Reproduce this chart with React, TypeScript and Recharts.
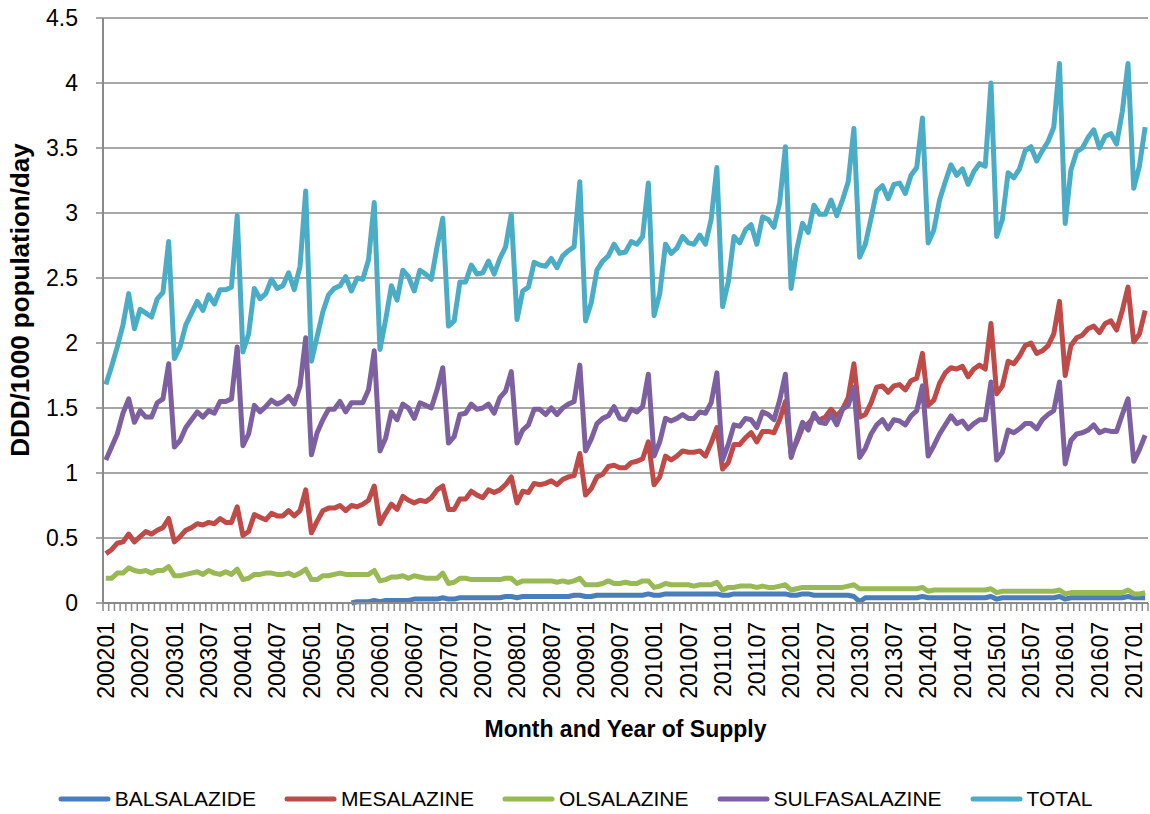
import React from 'react';
import { LineChart, Line, XAxis, YAxis, CartesianGrid, Legend } from 'recharts';

// monthly categories 200201 .. 201703
const START_YEAR = 2002;
const MONTH_COUNT = 183;
const months: string[] = Array.from({ length: MONTH_COUNT }, (_, i) =>
    `${START_YEAR + Math.floor(i / 12)}${String((i % 12) + 1).padStart(2, '0')}`
);

const yTicks = [0, 0.5, 1, 1.5, 2, 2.5, 3, 3.5, 4, 4.5];

// balsalazide only appears from 200508
const balsalazide: (number | null)[] = [
    null, null, null, null, null, null, null, null, null, null, null, null,
    null, null, null, null, null, null, null, null, null, null, null, null,
    null, null, null, null, null, null, null, null, null, null, null, null,
    null, null, null, null, null, null, null, 0.00, 0.01, 0.01, 0.01, 0.02,
    0.01, 0.02, 0.02, 0.02, 0.02, 0.02, 0.03, 0.03, 0.03, 0.03, 0.03, 0.04,
    0.03, 0.03, 0.04, 0.04, 0.04, 0.04, 0.04, 0.04, 0.04, 0.04, 0.05, 0.05,
    0.04, 0.05, 0.05, 0.05, 0.05, 0.05, 0.05, 0.05, 0.05, 0.05, 0.06, 0.06,
    0.05, 0.05, 0.06, 0.06, 0.06, 0.06, 0.06, 0.06, 0.06, 0.06, 0.06, 0.07,
    0.06, 0.06, 0.07, 0.07, 0.07, 0.07, 0.07, 0.07, 0.07, 0.07, 0.07, 0.07,
    0.06, 0.06, 0.07, 0.07, 0.07, 0.07, 0.07, 0.07, 0.07, 0.07, 0.07, 0.07,
    0.06, 0.06, 0.07, 0.07, 0.06, 0.06, 0.06, 0.06, 0.06, 0.06, 0.06, 0.05,
    0.01, 0.04, 0.04, 0.04, 0.04, 0.04, 0.04, 0.04, 0.04, 0.04, 0.04, 0.05,
    0.04, 0.04, 0.04, 0.04, 0.04, 0.04, 0.04, 0.04, 0.04, 0.04, 0.04, 0.05,
    0.03, 0.04, 0.04, 0.04, 0.04, 0.04, 0.04, 0.04, 0.04, 0.04, 0.04, 0.05,
    0.03, 0.04, 0.04, 0.04, 0.04, 0.04, 0.04, 0.04, 0.04, 0.04, 0.04, 0.05,
    0.04, 0.04, 0.04,
];

const mesalazine = [
    0.38, 0.41, 0.46, 0.47, 0.53, 0.47, 0.51, 0.55, 0.53, 0.56, 0.58, 0.65,
    0.47, 0.51, 0.56, 0.58, 0.61, 0.60, 0.62, 0.61, 0.65, 0.62, 0.62, 0.74,
    0.52, 0.55, 0.68, 0.66, 0.64, 0.69, 0.67, 0.67, 0.71, 0.67, 0.71, 0.87,
    0.54, 0.63, 0.71, 0.73, 0.73, 0.75, 0.71, 0.75, 0.74, 0.76, 0.79, 0.90,
    0.61, 0.69, 0.76, 0.72, 0.82, 0.79, 0.77, 0.79, 0.78, 0.81, 0.87, 0.90,
    0.72, 0.72, 0.80, 0.80, 0.86, 0.83, 0.81, 0.87, 0.85, 0.87, 0.91, 0.97,
    0.77, 0.86, 0.85, 0.92, 0.91, 0.92, 0.94, 0.91, 0.95, 0.97, 0.98, 1.15,
    0.83, 0.88, 0.97, 0.99, 1.05, 1.06, 1.04, 1.04, 1.08, 1.09, 1.11, 1.24,
    0.91, 0.97, 1.13, 1.10, 1.13, 1.17, 1.16, 1.16, 1.17, 1.13, 1.23, 1.35,
    1.03, 1.08, 1.22, 1.22, 1.27, 1.31, 1.24, 1.32, 1.32, 1.31, 1.41, 1.55,
    1.15, 1.24, 1.35, 1.38, 1.43, 1.41, 1.43, 1.49, 1.44, 1.49, 1.58, 1.84,
    1.43, 1.45, 1.54, 1.66, 1.67, 1.62, 1.67, 1.68, 1.64, 1.71, 1.73, 1.92,
    1.52, 1.56, 1.69, 1.77, 1.81, 1.80, 1.82, 1.74, 1.80, 1.83, 1.80, 2.15,
    1.61, 1.67, 1.86, 1.84, 1.90, 1.98, 2.00, 1.92, 1.94, 1.98, 2.07, 2.32,
    1.75, 1.98, 2.04, 2.06, 2.11, 2.13, 2.08, 2.15, 2.17, 2.10, 2.25, 2.43,
    2.01, 2.07, 2.25,
];

const olsalazine = [
    0.19, 0.19, 0.23, 0.23, 0.27, 0.25, 0.24, 0.25, 0.23, 0.25, 0.25, 0.28,
    0.21, 0.21, 0.22, 0.23, 0.24, 0.22, 0.25, 0.23, 0.22, 0.24, 0.22, 0.26,
    0.18, 0.19, 0.22, 0.22, 0.23, 0.23, 0.22, 0.22, 0.23, 0.21, 0.23, 0.26,
    0.18, 0.18, 0.21, 0.21, 0.22, 0.23, 0.22, 0.22, 0.22, 0.22, 0.22, 0.25,
    0.17, 0.18, 0.20, 0.20, 0.21, 0.19, 0.21, 0.20, 0.19, 0.19, 0.19, 0.23,
    0.15, 0.16, 0.19, 0.19, 0.18, 0.18, 0.18, 0.18, 0.18, 0.18, 0.19, 0.19,
    0.15, 0.17, 0.17, 0.17, 0.17, 0.17, 0.17, 0.16, 0.17, 0.16, 0.17, 0.19,
    0.14, 0.14, 0.14, 0.15, 0.17, 0.15, 0.15, 0.16, 0.15, 0.15, 0.17, 0.17,
    0.12, 0.13, 0.15, 0.14, 0.14, 0.14, 0.14, 0.13, 0.14, 0.14, 0.14, 0.16,
    0.10, 0.12, 0.12, 0.13, 0.13, 0.13, 0.12, 0.13, 0.12, 0.12, 0.13, 0.14,
    0.10, 0.11, 0.12, 0.12, 0.12, 0.12, 0.12, 0.12, 0.12, 0.12, 0.13, 0.14,
    0.11, 0.11, 0.11, 0.11, 0.11, 0.11, 0.11, 0.11, 0.11, 0.11, 0.11, 0.12,
    0.09, 0.10, 0.10, 0.10, 0.10, 0.10, 0.10, 0.10, 0.10, 0.10, 0.10, 0.11,
    0.08, 0.09, 0.09, 0.09, 0.09, 0.09, 0.09, 0.09, 0.09, 0.09, 0.09, 0.10,
    0.07, 0.08, 0.08, 0.08, 0.08, 0.08, 0.08, 0.08, 0.08, 0.08, 0.08, 0.10,
    0.07, 0.07, 0.08,
];

const sulfasalazine = [
    1.10, 1.20, 1.30, 1.46, 1.57, 1.39, 1.48, 1.43, 1.43, 1.54, 1.57, 1.84,
    1.20, 1.25, 1.35, 1.41, 1.47, 1.43, 1.48, 1.46, 1.55, 1.55, 1.57, 1.97,
    1.21, 1.30, 1.52, 1.47, 1.51, 1.56, 1.53, 1.55, 1.59, 1.53, 1.67, 2.04,
    1.14, 1.31, 1.41, 1.49, 1.49, 1.55, 1.47, 1.54, 1.54, 1.54, 1.64, 1.94,
    1.17, 1.27, 1.47, 1.41, 1.53, 1.50, 1.42, 1.54, 1.52, 1.50, 1.64, 1.81,
    1.23, 1.28, 1.45, 1.46, 1.53, 1.49, 1.50, 1.53, 1.46, 1.58, 1.63, 1.78,
    1.23, 1.33, 1.37, 1.49, 1.49, 1.45, 1.50, 1.45, 1.50, 1.53, 1.55, 1.83,
    1.17, 1.26, 1.38, 1.42, 1.44, 1.51, 1.42, 1.41, 1.49, 1.47, 1.51, 1.76,
    1.13, 1.24, 1.42, 1.40, 1.42, 1.45, 1.42, 1.42, 1.47, 1.46, 1.54, 1.77,
    1.10, 1.22, 1.37, 1.36, 1.42, 1.41, 1.35, 1.47, 1.45, 1.41, 1.56, 1.76,
    1.12, 1.26, 1.39, 1.33, 1.46, 1.39, 1.38, 1.45, 1.37, 1.49, 1.52, 1.66,
    1.12, 1.19, 1.30, 1.37, 1.41, 1.34, 1.41, 1.40, 1.37, 1.44, 1.48, 1.67,
    1.13, 1.21, 1.30, 1.37, 1.44, 1.38, 1.40, 1.34, 1.38, 1.41, 1.41, 1.70,
    1.10, 1.16, 1.33, 1.31, 1.34, 1.38, 1.38, 1.34, 1.41, 1.45, 1.48, 1.70,
    1.07, 1.25, 1.30, 1.31, 1.33, 1.37, 1.31, 1.33, 1.32, 1.32, 1.45, 1.57,
    1.09, 1.18, 1.29,
];

const total = [
    1.68, 1.82, 1.97, 2.14, 2.38, 2.11, 2.26, 2.23, 2.20, 2.34, 2.39, 2.78,
    1.88, 1.97, 2.14, 2.23, 2.32, 2.25, 2.37, 2.30, 2.41, 2.41, 2.43, 2.98,
    1.93, 2.07, 2.42, 2.34, 2.38, 2.49, 2.42, 2.44, 2.54, 2.41, 2.59, 3.17,
    1.86, 2.05, 2.24, 2.37, 2.42, 2.44, 2.51, 2.40, 2.50, 2.49, 2.64, 3.08,
    1.95, 2.18, 2.44, 2.33, 2.56, 2.51, 2.40, 2.56, 2.53, 2.49, 2.74, 2.96,
    2.13, 2.17, 2.47, 2.47, 2.60, 2.53, 2.54, 2.63, 2.53, 2.65, 2.74, 2.99,
    2.18, 2.40, 2.43, 2.62, 2.60, 2.59, 2.65, 2.58, 2.67, 2.71, 2.74, 3.24,
    2.17, 2.31, 2.56, 2.63, 2.67, 2.76, 2.69, 2.70, 2.78, 2.76, 2.82, 3.23,
    2.21, 2.38, 2.76, 2.69, 2.73, 2.82, 2.77, 2.76, 2.83, 2.76, 2.95, 3.35,
    2.28, 2.47, 2.82, 2.77, 2.87, 2.91, 2.76, 2.97, 2.95, 2.89, 3.08, 3.51,
    2.42, 2.72, 2.92, 2.85, 3.06, 2.99, 2.99, 3.10, 2.98, 3.10, 3.24, 3.65,
    2.66, 2.76, 2.96, 3.17, 3.21, 3.11, 3.22, 3.23, 3.15, 3.29, 3.35, 3.73,
    2.77, 2.87, 3.10, 3.24, 3.37, 3.29, 3.34, 3.22, 3.32, 3.38, 3.36, 4.00,
    2.82, 2.95, 3.31, 3.27, 3.34, 3.48, 3.51, 3.40, 3.48, 3.55, 3.66, 4.15,
    2.92, 3.33, 3.47, 3.50, 3.58, 3.64, 3.50, 3.59, 3.61, 3.53, 3.78, 4.15,
    3.19, 3.36, 3.66,
];

const SERIES = [
    { key: 'BALSALAZIDE', color: '#4A7EBB' },
    { key: 'MESALAZINE', color: '#BE4B48' },
    { key: 'OLSALAZINE', color: '#98B954' },
    { key: 'SULFASALAZINE', color: '#7D60A0' },
    { key: 'TOTAL', color: '#4BACC6' },
];

const data = months.map((m, i) => ({
    month: m,
    BALSALAZIDE: balsalazide[i],
    MESALAZINE: mesalazine[i],
    OLSALAZINE: olsalazine[i],
    SULFASALAZINE: sulfasalazine[i],
    TOTAL: total[i],
}));

const W = 1150;
const H = 814;
const PLOT_LEFT = 103;
const PLOT_RIGHT = 2;
const STEP = (W - PLOT_LEFT - PLOT_RIGHT) / months.length;
const FONT = '"Liberation Sans", Arial, sans-serif';
const AXIS = '#8a8a8a';

// every category gets a boundary tick, every 6th gets a label
const MonthTick = (props: any) => {
    const { x, y, payload } = props;
    const i = props.index ?? payload.index;
    const half = STEP / 2;
    const ly = y + 19;
    return (
        <g>
            <line x1={x - half} x2={x - half} y1={y} y2={y + 8} stroke={AXIS} strokeWidth={1.5} />
            {i === months.length - 1 && (
                <line x1={x + half} x2={x + half} y1={y} y2={y + 8} stroke={AXIS} strokeWidth={1.5} />
            )}
            {i % 6 === 0 && (
                <text
                    x={x}
                    y={ly}
                    dy="0.36em"
                    transform={`rotate(-90, ${x}, ${ly})`}
                    textAnchor="end"
                    fontFamily={FONT}
                    fontSize={23}
                    fill="#000"
                >
                    {payload.value}
                </text>
            )}
        </g>
    );
};

const renderXTitle = (props: any) => {
    const vb = props.viewBox;
    return (
        <text x={vb.x + vb.width / 2} y={737} textAnchor="middle" fontFamily={FONT} fontSize={23} fontWeight="bold" fill="#000">
            Month and Year of Supply
        </text>
    );
};

const renderYTitle = () => (
    <text x={29} y={300} transform="rotate(-90, 29, 300)" textAnchor="middle" fontFamily={FONT} fontSize={26} fontWeight="bold" fill="#000">
        DDD/1000 population/day
    </text>
);

const renderLegend = () => (
    <div style={{ display: 'flex', justifyContent: 'center', alignItems: 'center', height: 30, gap: 28, fontFamily: FONT, fontSize: 21, color: '#000' }}>
        {SERIES.map(s => (
            <div key={s.key} style={{ display: 'flex', alignItems: 'center' }}>
                <svg width={53} height={8}>
                    <line x1={3} x2={50} y1={4} y2={4} stroke={s.color} strokeWidth={5} strokeLinecap="round" />
                </svg>
                <span style={{ marginLeft: 4 }}>{s.key}</span>
            </div>
        ))}
    </div>
);

export default function App() {
    return (
        <div style={{ width: W, height: H, background: '#fff' }}>
            <style>{'body{margin:0}'}</style>
            <LineChart width={W} height={H} data={data} margin={{ top: 18, right: PLOT_RIGHT, left: 43, bottom: 0 }}>
                <CartesianGrid vertical={false} stroke={AXIS} strokeWidth={1.5} />
                <XAxis
                    dataKey="month"
                    interval={0}
                    height={181}
                    padding={{ left: STEP / 2, right: STEP / 2 }}
                    tick={<MonthTick />}
                    tickLine={false}
                    tickSize={0}
                    tickMargin={0}
                    axisLine={{ stroke: AXIS, strokeWidth: 2 }}
                    label={{ content: renderXTitle }}
                />
                <YAxis
                    type="number"
                    domain={[0, 4.5]}
                    ticks={yTicks}
                    width={60}
                    tickSize={7}
                    tickMargin={18}
                    tickLine={{ stroke: AXIS, strokeWidth: 1.5 }}
                    axisLine={{ stroke: AXIS, strokeWidth: 2 }}
                    tick={{ fontFamily: FONT, fontSize: 23, fill: '#000' }}
                    label={{ content: renderYTitle }}
                />
                <Legend
                    verticalAlign="bottom"
                    content={renderLegend}
                    wrapperStyle={{ left: 0, width: W, height: 30 }}
                />
                {SERIES.map(s => (
                    <Line
                        key={s.key}
                        type="linear"
                        dataKey={s.key}
                        stroke={s.color}
                        strokeWidth={5}
                        strokeLinejoin="round"
                        dot={false}
                        activeDot={false}
                        isAnimationActive={false}
                    />
                ))}
            </LineChart>
        </div>
    );
}
